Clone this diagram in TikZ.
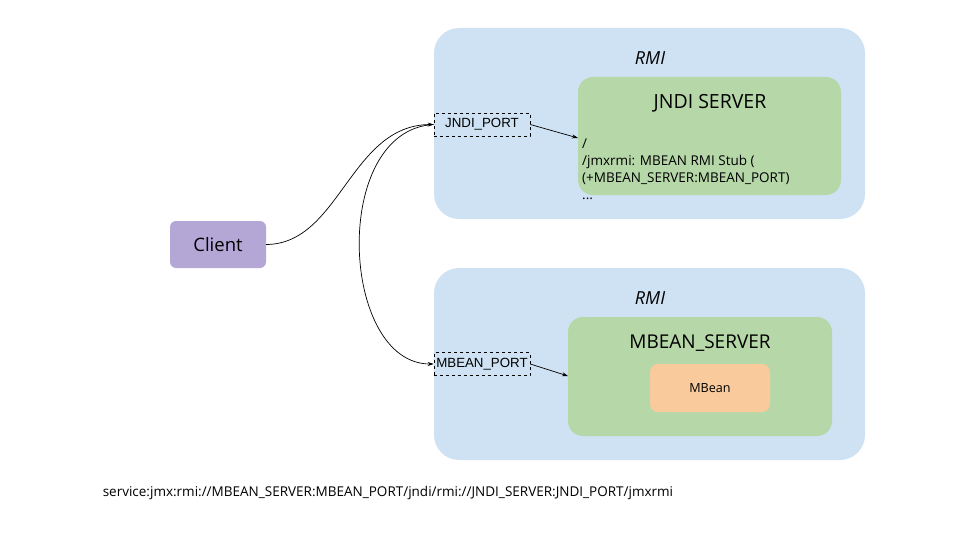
\documentclass[tikz,border=0pt]{standalone}
\usepackage{fontspec}
\setmainfont{Open Sans}
\newfontfamily\portfont{Liberation Sans}
\usetikzlibrary{arrows.meta}
\definecolor{rmiblue}{HTML}{CFE2F3}
\definecolor{srvgreen}{HTML}{B6D7A8}
\definecolor{clientpurple}{HTML}{B4A7D6}
\definecolor{beanorange}{HTML}{F9CB9C}
\tikzset{
  rmibox/.style={fill=rmiblue, draw=none, rounded corners=25pt, inner sep=0pt},
  srvbox/.style={fill=srvgreen, draw=none, rounded corners=15pt, inner sep=0pt},
  portbox/.style={fill=rmiblue, draw=black, dashed, line width=0.6pt, inner sep=0pt,
    minimum width=96pt, minimum height=23pt, font=\portfont\fontsize{13.3}{15}\selectfont},
  conn/.style={line width=0.7pt, -{Stealth[length=6pt,width=4pt]}},
}
\begin{document}
\begin{tikzpicture}[x=1pt,y=-1pt]
\useasboundingbox (0,0) rectangle (960,540);
% RMI containers
\node[rmibox, minimum width=431pt, minimum height=191pt] (rmi1) at (649.5,123.5) {};
\node[rmibox, minimum width=431pt, minimum height=192pt] (rmi2) at (649.5,364) {};
\node[font=\itshape\fontsize{18}{20}\selectfont] (rmi1lbl) at (650,58) {RMI};
\node[font=\itshape\fontsize{18}{20}\selectfont] (rmi2lbl) at (650,298) {RMI};
% JNDI server
\node[srvbox, minimum width=263pt, minimum height=118pt] (jndi) at (709.5,136) {};
\node[font=\fontsize{19.5}{22}\selectfont] (jndilbl) at (710,103) {JNDI SERVER};
\node[anchor=north west, align=left, inner sep=0pt, font=\fontsize{13.5}{17}\selectfont] (jnditxt) at (582,139)
  {/\\/jmxrmi: MBEAN RMI Stub (\\(+MBEAN\_SERVER:MBEAN\_PORT)\\...};
% MBean server
\node[srvbox, minimum width=264pt, minimum height=119pt] (mbs) at (700,376.5) {};
\node[font=\fontsize{19}{22}\selectfont] (mbslbl) at (700,343) {MBEAN\_SERVER};
\node[fill=beanorange, rounded corners=8pt, minimum width=120pt, minimum height=48pt, inner sep=0pt,
  font=\fontsize{12.6}{14}\selectfont] (mbean) at (710,388) {MBean};
% Ports
\node[portbox] (jport) at (482,124.5) {JNDI\_PORT};
\node[portbox] (mport) at (482,364) {MBEAN\_PORT};
% Client
\node[fill=clientpurple, rounded corners=6pt, minimum width=96pt, minimum height=47pt, inner sep=0pt,
  font=\fontsize{18.5}{20}\selectfont] (client) at (218,244.5) {Client};
% Connectors
\coordinate (jndiin) at (578,138);
\coordinate (mbsin) at (568,376);
\draw[conn] (jport.east) -- (jndiin);
\draw[conn] (mport.east) -- (mbsin);
\draw[conn] (client.east) .. controls (340,244) and (350,125) .. (jport.west);
\draw[conn] (jport.west) .. controls (330,130) and (340,364) .. (mport.west);
% URL
\node[font=\fontsize{13.5}{15}\selectfont] (url) at (388,493) {service:jmx:rmi://MBEAN\_SERVER:MBEAN\_PORT/jndi/rmi://JNDI\_SERVER:JNDI\_PORT/jmxrmi};
\end{tikzpicture}
\end{document}
